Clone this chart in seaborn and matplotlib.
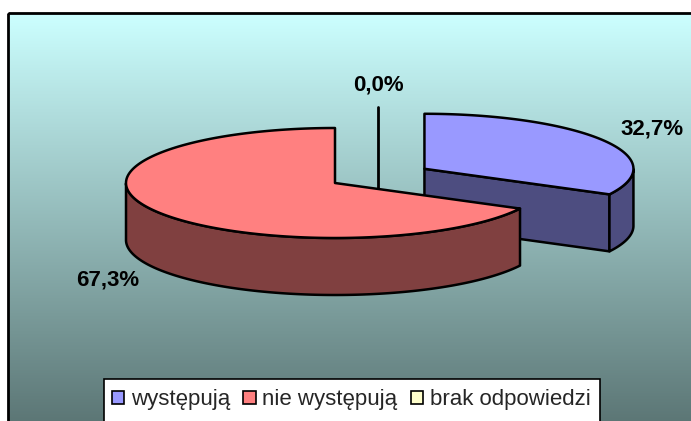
import numpy as np
import matplotlib
matplotlib.use("Agg")
import matplotlib.pyplot as plt
import seaborn as sns
from matplotlib.patches import Polygon, Rectangle, Patch
from matplotlib.colors import to_rgb

# dane
categories = ["występują", "nie występują", "brak odpowiedzi"]
values = [32.7, 67.3, 0.0]
value_labels = ["32,7%", "67,3%", "0,0%"]
colors = ["#9999FF", "#FF8080", "#FFFFCC"]
explode = [0.5, 0.0, 0.0]

sns.set_style("white")
plt.rcParams["font.family"] = ["Liberation Sans", "DejaVu Sans"]

W, H = 691, 421
fig = plt.figure(figsize=(W / 100, H / 100), dpi=100)
ax = fig.add_axes([0, 0, 1, 1])

# tlo z gradientem
c_top = np.array(to_rgb("#CCFFFF"))
c_bot = np.array(to_rgb("#5A7473"))
t = np.linspace(0, 1, 256)[:, None]
grad = (c_top * (1 - t) + c_bot * t)[:, None, :]
ax.imshow(grad, extent=[8, 700, 430, 13], aspect="auto", zorder=0)
ax.add_patch(Rectangle((8, 13), 700, 420, fill=False, edgecolor="black", lw=2, zorder=1))

# geometria kola 3D
cx, cy, rx, ry, depth = 335, 183, 209, 55, 57
zero_shift = (43, -21)

angles = 360 * np.array(values) / sum(values)
starts = 90 - np.concatenate([[0], np.cumsum(angles)[:-1]])
ends = starts - angles


def ell(x0, y0, th, dz=0.0):
    return np.column_stack([x0 + rx * np.cos(th), y0 - ry * np.sin(th) + dz])


def draw_slice(x0, y0, a_start, a_end, color, z):
    side = np.array(to_rgb(color)) * 0.5
    kw = dict(edgecolor="black", lw=1.8, joinstyle="round", zorder=z)
    c = np.array([[x0, y0]])
    # sciana przekroju
    te = np.radians(a_end)
    if np.cos(te) > 1e-6:
        p = ell(x0, y0, np.array([te]))[0]
        ax.add_patch(Polygon([c[0], p, p + [0, depth], c[0] + [0, depth]], facecolor=side, **kw))
    ts = np.radians(a_start)
    if np.cos(ts) < -1e-6:
        p = ell(x0, y0, np.array([ts]))[0]
        ax.add_patch(Polygon([c[0], p, p + [0, depth], c[0] + [0, depth]], facecolor=side, **kw))
    # zewnetrzna sciana
    th = np.radians(np.linspace(a_end, a_start, 400))
    idx = np.where(np.sin(th) < 0)[0]
    if len(idx):
        runs = np.split(idx, np.where(np.diff(idx) > 1)[0] + 1)
        for r in runs:
            tt = th[r]
            upper = ell(x0, y0, tt)
            lower = ell(x0, y0, tt[::-1], depth)
            ax.add_patch(Polygon(np.vstack([upper, lower]), facecolor=side, **kw))
    # gorna powierzchnia
    arc = ell(x0, y0, th)
    ax.add_patch(Polygon(np.vstack([c, arc]), facecolor=color, **kw))


centers = []
for i in range(len(values)):
    mid = np.radians((starts[i] + ends[i]) / 2)
    if values[i] == 0:
        centers.append((cx + zero_shift[0], cy + zero_shift[1]))
    else:
        centers.append((cx + explode[i] * rx * np.cos(mid), cy - explode[i] * ry * np.sin(mid)))

# kolejnosc: tyl -> przod
draw_slice(centers[0][0], centers[0][1], starts[0], ends[0], colors[0], 2)
zx, zy = centers[2]
ax.plot([zx, zx], [zy - ry, zy + depth], color="black", lw=2, zorder=3)
draw_slice(centers[1][0], centers[1][1], starts[1], ends[1], colors[1], 4)

# etykiety
for i in range(len(values)):
    mid = np.radians((starts[i] + ends[i]) / 2)
    x0, y0 = centers[i]
    lx = x0 + 1.27 * rx * np.cos(mid)
    ly = y0 - 1.4 * ry * np.sin(mid) + (depth if np.sin(mid) < -1e-6 else 0)
    ax.text(lx, ly, value_labels[i], ha="center", va="center", fontsize=16,
            fontweight="bold", color="black", zorder=6)

# legenda
ax.add_patch(Rectangle((104, 379), 496, 60, facecolor="white", edgecolor="black", lw=1.2, zorder=7))
handles = [Patch(facecolor=c, edgecolor="black", lw=1.2) for c in colors]
leg = ax.legend(handles, categories, ncol=3, loc="center left", bbox_to_anchor=(112, 400),
                bbox_transform=ax.transData, frameon=False, fontsize=16,
                handlelength=0.55, handleheight=0.55, handletextpad=0.3,
                columnspacing=0.6, borderpad=0, borderaxespad=0)
leg.set_zorder(8)

ax.set_xlim(0, W)
ax.set_ylim(H, 0)
ax.axis("off")
fig.savefig("out.png", dpi=100, facecolor="white")
